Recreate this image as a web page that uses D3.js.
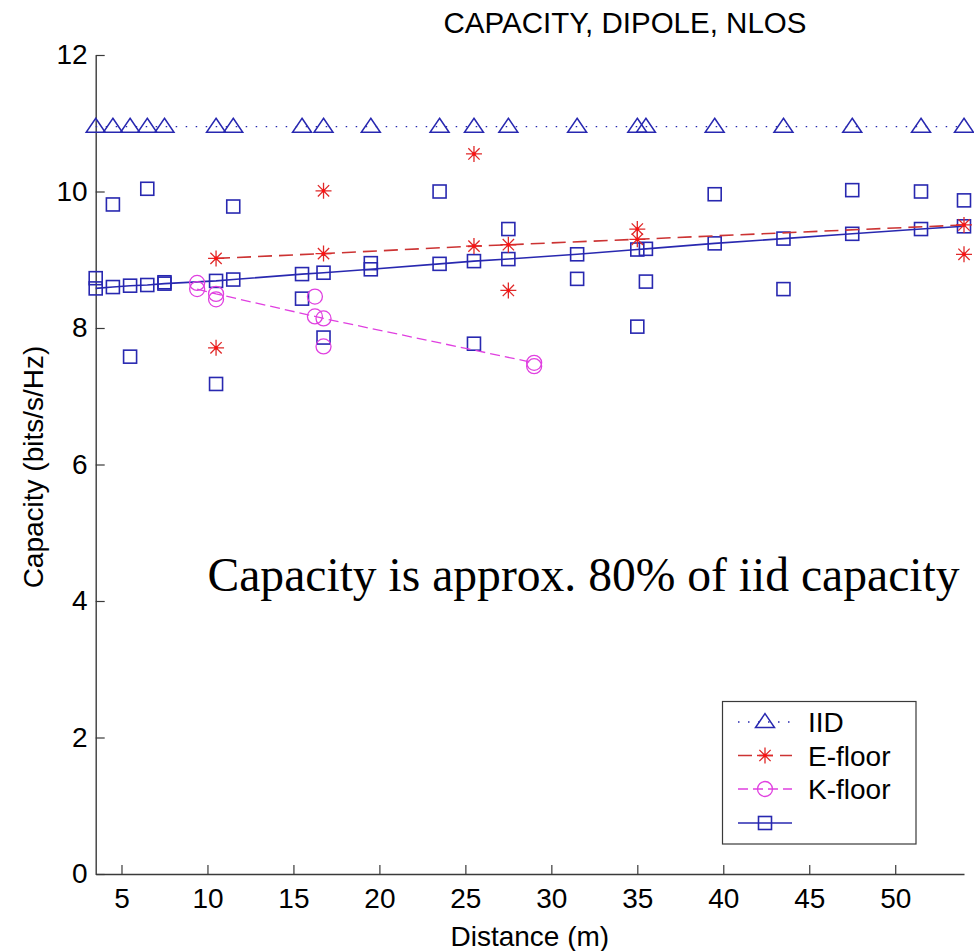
<!DOCTYPE html>
<html>
<head>
<meta charset="utf-8">
<script src="https://cdn.jsdelivr.net/npm/d3@7"></script>
<style>
  html, body { margin: 0; padding: 0; background: #fff; }
  svg { display: block; }
</style>
</head>
<body>
<svg id="chart" width="974" height="951"></svg>
<script>
// ---------------- data ----------------
const distances = [3.5, 4.5, 5.5, 6.5, 7.5, 10.5, 11.5, 15.5, 16.75, 19.5, 23.5, 25.5, 27.5, 31.5, 35, 35.5, 39.5, 43.5, 47.5, 51.5, 54];
const iidCapacity = [10.95, 10.95, 10.95, 10.95, 10.95, 10.95, 10.95, 10.95, 10.95, 10.95, 10.95, 10.95, 10.95, 10.95, 10.95, 10.95, 10.95, 10.95, 10.95, 10.95, 10.95];
const allMeasured = [8.73, 9.81, 7.58, 10.04, 8.67, 7.18, 9.78, 8.43, 7.86, 8.95, 10.0, 7.77, 9.45, 8.72, 8.02, 8.68, 9.96, 8.57, 10.02, 10.0, 9.87];
const allFit = [8.58, 8.60, 8.62, 8.63, 8.65, 8.69, 8.71, 8.79, 8.81, 8.86, 8.94, 8.98, 9.01, 9.08, 9.15, 9.16, 9.24, 9.31, 9.38, 9.45, 9.49];

const eDistances = [10.5, 16.75, 25.5, 27.5, 35, 54];
const eMeasured = [7.71, 10.01, 10.55, 8.55, 9.45, 9.08];
const eFit = [9.02, 9.09, 9.20, 9.22, 9.30, 9.51];

const kDistances = [9.4, 10.5, 16.25, 16.75, 29];
const kMeasured = [8.66, 8.42, 8.46, 7.73, 7.44];
const kFit = [8.57, 8.50, 8.17, 8.14, 7.49];

const xTicks = [5, 10, 15, 20, 25, 30, 35, 40, 45, 50];
const yTicks = [0, 2, 4, 6, 8, 10, 12];
const legendLabels = ["IID", "E-floor", "K-floor", ""];
const titleText = "CAPACITY, DIPOLE, NLOS";
const xLabel = "Distance (m)";
const yLabel = "Capacity (bits/s/Hz)";
const noteText = "Capacity is approx. 80% of iid capacity";

// ---------------- layout ----------------
const svg = d3.select("#chart");
const x = d3.scaleLinear().domain([3.5, 54]).range([95.7, 964]);
const y = d3.scaleLinear().domain([0, 12]).range([874, 55]);

const BLUE = "#2828b0";
const RED = "#e02828";
const REDLINE = "#cc3333";
const MAG = "#e040e0";
const AXIS = "#3a3a3a";
const SANS = "'Liberation Sans', Arial, Helvetica, sans-serif";
const SERIF = "'Liberation Serif', 'Times New Roman', serif";

// ---------------- axes ----------------
const xAxis = d3.axisBottom(x).tickValues(xTicks).tickSizeInner(-9).tickSizeOuter(0).tickPadding(14).tickFormat(d3.format("d"));
const yAxis = d3.axisLeft(y).tickValues(yTicks).tickSizeInner(-9).tickSizeOuter(0).tickPadding(8).tickFormat(d3.format("d"));

const gx = svg.append("g").attr("transform", `translate(0,${y(0)})`).call(xAxis);
const gy = svg.append("g").attr("transform", `translate(${x(3.5)},0)`).call(yAxis);
[gx, gy].forEach(g => {
  g.select(".domain").attr("stroke", AXIS).attr("stroke-width", 1.4);
  g.selectAll(".tick line").attr("stroke", AXIS).attr("stroke-width", 1.2);
  g.selectAll(".tick text").attr("fill", "#000").style("font-family", SANS).style("font-size", "28px");
});

// ---------------- marker helpers ----------------
function triangle(g, cx, cy, color) {
  g.append("path")
    .attr("d", `M${cx},${cy - 8.4} L${cx + 9.5},${cy + 5.6} L${cx - 9.5},${cy + 5.6} Z`)
    .attr("fill", "none").attr("stroke", color).attr("stroke-width", 1.5);
}
function square(g, cx, cy, color) {
  g.append("rect").attr("x", cx - 6.5).attr("y", cy - 6.5).attr("width", 13).attr("height", 13)
    .attr("fill", "none").attr("stroke", color).attr("stroke-width", 1.6);
}
function circle(g, cx, cy, color) {
  g.append("circle").attr("cx", cx).attr("cy", cy).attr("r", 7.5)
    .attr("fill", "none").attr("stroke", color).attr("stroke-width", 1.3);
}
function star(g, cx, cy, color) {
  const r = 8, d = r * Math.SQRT1_2;
  const p = `M${cx - r},${cy} L${cx + r},${cy} M${cx},${cy - r} L${cx},${cy + r} ` +
            `M${cx - d},${cy - d} L${cx + d},${cy + d} M${cx - d},${cy + d} L${cx + d},${cy - d}`;
  g.append("path").attr("d", p).attr("stroke", color).attr("stroke-width", 1.3).attr("fill", "none");
  g.append("circle").attr("cx", cx).attr("cy", cy).attr("r", 1.8).attr("fill", "#ff1010");
}

const line = d3.line().x(d => x(d[0])).y(d => y(d[1]));
const plot = svg.append("g");

// IID
const iidPts = distances.map((d, i) => [d, iidCapacity[i]]);
plot.append("path").attr("d", line(iidPts)).attr("fill", "none").attr("stroke", BLUE)
  .attr("stroke-width", 1.4).attr("stroke-dasharray", "1.5,8.5");
iidPts.forEach(p => triangle(plot, x(p[0]), y(p[1]), BLUE));

// combined (blue squares)
const fitPts = distances.map((d, i) => [d, allFit[i]]);
plot.append("path").attr("d", line(fitPts)).attr("fill", "none").attr("stroke", BLUE).attr("stroke-width", 1.6);
fitPts.forEach(p => square(plot, x(p[0]), y(p[1]), BLUE));
distances.forEach((d, i) => square(plot, x(d), y(allMeasured[i]), BLUE));

// E-floor
const ePts = eDistances.map((d, i) => [d, eFit[i]]);
plot.append("path").attr("d", line(ePts)).attr("fill", "none").attr("stroke", REDLINE)
  .attr("stroke-width", 1.6).attr("stroke-dasharray", "14,7");
ePts.forEach(p => star(plot, x(p[0]), y(p[1]), RED));
eDistances.forEach((d, i) => star(plot, x(d), y(eMeasured[i]), RED));

// K-floor
const kPts = kDistances.map((d, i) => [d, kFit[i]]);
plot.append("path").attr("d", line(kPts)).attr("fill", "none").attr("stroke", MAG)
  .attr("stroke-width", 1.3).attr("stroke-dasharray", "10,5");
kPts.forEach(p => circle(plot, x(p[0]), y(p[1]), MAG));
kDistances.forEach((d, i) => circle(plot, x(d), y(kMeasured[i]), MAG));

// ---------------- texts ----------------
svg.append("text").attr("x", 625).attr("y", 33).attr("text-anchor", "middle")
  .style("font-family", SANS).style("font-size", "29.5px").text(titleText);
svg.append("text").attr("x", (x.range()[0] + x.range()[1]) / 2).attr("y", 946).attr("text-anchor", "middle")
  .style("font-family", SANS).style("font-size", "28px").text(xLabel);
svg.append("text").attr("transform", "translate(43,467) rotate(-90)").attr("text-anchor", "middle")
  .style("font-family", SANS).style("font-size", "28px").text(yLabel);
svg.append("text").attr("x", 207.5).attr("y", 591)
  .style("font-family", SERIF).style("font-size", "47.6px").text(noteText);

// ---------------- legend ----------------
const lg = svg.append("g");
lg.append("rect").attr("x", 722.5).attr("y", 701.5).attr("width", 193.5).attr("height", 142.5)
  .attr("fill", "#fff").attr("stroke", AXIS).attr("stroke-width", 1.2);
const rowsY = [722, 755.5, 789, 823];
const legendStyles = [
  { color: BLUE, dash: "1.5,8.5", w: 1.4, mark: triangle },
  { color: REDLINE, dash: "14,7", w: 1.6, mark: star, mcolor: RED },
  { color: MAG, dash: "10,5", w: 1.3, mark: circle },
  { color: BLUE, dash: null, w: 1.6, mark: square }
];
legendLabels.forEach((lab, i) => {
  const st = legendStyles[i];
  const ly = rowsY[i];
  const l = lg.append("line").attr("x1", 738).attr("x2", 792).attr("y1", ly).attr("y2", ly)
    .attr("stroke", st.color).attr("stroke-width", st.w);
  if (st.dash) l.attr("stroke-dasharray", st.dash);
  st.mark(lg, 765, ly, st.mcolor || st.color);
  lg.append("text").attr("x", 808).attr("y", ly).attr("dy", "0.36em")
    .style("font-family", SANS).style("font-size", "28px").text(lab);
});
</script>
</body>
</html>
